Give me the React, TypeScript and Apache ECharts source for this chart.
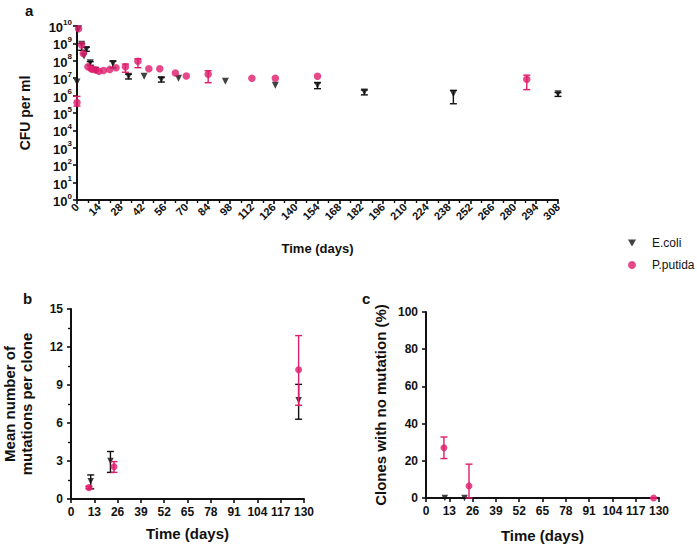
import React, { useEffect, useRef } from "react";
import * as echarts from "echarts";

// ---- Panel a: CFU per ml over time ----
const ecoliDays = [0, 1, 3, 4.5, 6, 8.5, 12, 23, 33, 43, 54, 65, 95, 127, 154, 184, 241, 308];
const ecoliCfu = [6e6, 7e9, 9e8, 1.9e8, 4.5e8, 7.6e7, 2.9e7, 7e7, 1.3e7, 1.3e7, 8.3e6, 1e7, 6.6e6, 3.9e6, 3.9e6, 1.6e6, 1.26e6, 1.26e6];
const ecoliErrDays = [3, 6, 8.5, 23, 33, 54, 154, 184, 241, 308];
const ecoliErrLow = [4e8, 3.5e8, 5.5e7, 3.9e7, 9e6, 6e6, 2.5e6, 1.1e6, 3.4e5, 9e5];
const ecoliErrHigh = [1e9, 6e8, 9e7, 9.5e7, 1.7e7, 1.1e7, 5.5e6, 2.1e6, 2e6, 1.5e6];

const putidaDays = [0, 1, 3, 4, 7, 9, 10, 12, 14, 17, 21, 25, 31, 39, 46, 53, 63, 70, 84, 112, 127, 154, 288];
const putidaCfu = [4e5, 7e9, 8e8, 2.6e8, 4.5e7, 3.5e7, 3.3e7, 3e7, 2.5e7, 2.8e7, 3.2e7, 4e7, 4.5e7, 9.5e7, 3.5e7, 3.5e7, 2e7, 1.35e7, 1.7e7, 1.0e7, 1.0e7, 1.3e7, 8.7e6];
const putidaErrDays = [0, 31, 39, 84, 288];
const putidaErrLow = [2.5e5, 2.2e7, 4e7, 5.5e6, 2.2e6];
const putidaErrHigh = [9e5, 6.5e7, 1.3e8, 2.7e7, 1.5e7];

// ---- Panel b: mean number of mutations per clone ----
const mutDaysEcoli = [11, 22, 127];
const mutEcoli = [1.4, 3.0, 7.8];
const mutEcoliLow = [0.8, 2.1, 6.3];
const mutEcoliHigh = [1.9, 3.75, 9.05];
const mutDaysPutida = [10, 24, 127];
const mutPutida = [0.9, 2.55, 10.2];
const mutPutidaLow = [0.8, 2.1, 7.4];
const mutPutidaHigh = [1.0, 2.95, 12.9];

// ---- Panel c: clones with no mutation (%) ----
const noMutDaysEcoli = [10.5, 21.5];
const noMutEcoli = [0, 0];
const noMutDaysPutida = [10, 24, 127];
const noMutPutida = [27, 6.5, 0];
const noMutPutidaLow = [21.2, 0, 0];
const noMutPutidaHigh = [32.8, 18.2, 0];

const seriesNames = ["E.coli", "P.putida"];

const BLACK = "#111111";
const PINK = "#E01C6C";
const FONT = 'Arial, "Liberation Sans", Helvetica, sans-serif';

const zip2 = (xs: number[], ys: number[]) => xs.map((x, i) => [x, ys[i]]);
const zip3 = (xs: number[], lo: number[], hi: number[]) => xs.map((x, i) => [x, lo[i], hi[i]]);

function errRender(color: string) {
  return (params: any, api: any) => {
    const x = api.value(0);
    const lo = api.value(1);
    const hi = api.value(2);
    const a = api.coord([x, lo]);
    const b = api.coord([x, hi]);
    const w = 3.5;
    const style = { stroke: color, lineWidth: 1.4, fill: null };
    return {
      type: "group",
      children: [
        { type: "line", shape: { x1: a[0], y1: a[1], x2: b[0], y2: b[1] }, style },
        { type: "line", shape: { x1: a[0] - w, y1: a[1], x2: a[0] + w, y2: a[1] }, style },
        { type: "line", shape: { x1: b[0] - w, y1: b[1], x2: b[0] + w, y2: b[1] }, style },
      ],
    };
  };
}

const axisLine = { show: true, onZero: false, lineStyle: { color: BLACK, width: 2 } };
const axisTick = { show: true, length: 4, lineStyle: { color: BLACK, width: 1.6 } };

function scatter(name: string, xi: number, xs: number[], ys: number[], isTri: boolean, size: number) {
  return {
    type: "scatter", name, xAxisIndex: xi, yAxisIndex: xi,
    symbol: isTri ? "triangle" : "circle",
    symbolRotate: isTri ? 180 : 0,
    symbolSize: size,
    itemStyle: { color: isTri ? BLACK : PINK },
    clip: false,
    z: isTri ? 3 : 5,
    data: zip2(xs, ys),
  };
}

function errors(name: string, xi: number, xs: number[], lo: number[], hi: number[], color: string) {
  return {
    type: "custom", name, xAxisIndex: xi, yAxisIndex: xi,
    renderItem: errRender(color), encode: { x: 0, y: [1, 2] },
    itemStyle: { color },
    data: zip3(xs, lo, hi), z: color === PINK ? 4 : 2, silent: true,
  };
}

export default function App() {
  const ref = useRef<HTMLDivElement>(null);
  useEffect(() => {
    document.body.style.margin = "0";
    const chart = echarts.init(ref.current!, null, { renderer: "svg" });
    const bold = (size: number) => ({
      color: BLACK,
      fontFamily: FONT,
      fontWeight: "bold" as const,
      fontSize: size,
    });
    const panelTitle = { fontSize: 15, fontWeight: "bold", color: BLACK, fontFamily: FONT };

    const option: any = {
      animation: false,
      backgroundColor: "#ffffff",
      textStyle: { fontFamily: FONT },
      title: [
        { text: "a", left: 20, top: -2, textStyle: panelTitle },
        { text: "b", left: 18, top: 286, textStyle: panelTitle },
        { text: "c", left: 357, top: 286, textStyle: panelTitle },
      ],
      legend: {
        orient: "vertical",
        left: 623,
        top: 232,
        itemWidth: 8,
        itemHeight: 8,
        itemGap: 10,
        symbolRotate: 0,
        data: [
          { name: seriesNames[0], icon: "path://M0,0 L10,0 L5,9 Z", itemStyle: { color: BLACK } },
          { name: seriesNames[1], icon: "circle", itemStyle: { color: PINK } },
        ],
        textStyle: { fontSize: 12, color: BLACK, fontFamily: FONT, padding: [0, 0, 0, 11] },
      },
      grid: [
        { left: 77, top: 26, width: 481, height: 174 },
        { left: 66, top: 309, width: 238, height: 190 },
        { left: 426, top: 312, width: 233, height: 187 },
      ],
      xAxis: [
        {
          gridIndex: 0, type: "value", min: 0, max: 308, interval: 14,
          name: "Time (days)", nameLocation: "middle", nameGap: 42, nameTextStyle: bold(13),
          axisLine, axisTick,
          minorTick: { show: true, splitNumber: 2, length: 3, lineStyle: { color: BLACK, width: 1.4 } },
          splitLine: { show: false },
          axisLabel: { ...bold(11), rotate: 45, margin: 5 },
        },
        {
          gridIndex: 1, type: "value", min: 0, max: 130, interval: 13,
          name: "Time (days)", nameLocation: "middle", nameGap: 27, nameTextStyle: bold(15),
          axisLine, axisTick, splitLine: { show: false },
          axisLabel: { ...bold(12), margin: 7 },
        },
        {
          gridIndex: 2, type: "value", min: 0, max: 130, interval: 13,
          name: "Time (days)", nameLocation: "middle", nameGap: 30, nameTextStyle: bold(15),
          axisLine, axisTick, splitLine: { show: false },
          axisLabel: { ...bold(12), margin: 7 },
        },
      ],
      yAxis: [
        {
          gridIndex: 0, type: "log", logBase: 10, min: 1, max: 1e10, interval: 1,
          name: "CFU per ml", nameLocation: "middle", nameGap: 45, nameTextStyle: bold(14),
          axisLine, axisTick, splitLine: { show: false },
          axisLabel: {
            margin: 5,
            formatter: (v: number) => `{b|10}{s|${Math.round(Math.log10(v))}}`,
            rich: {
              b: { ...bold(13), verticalAlign: "bottom", lineHeight: 16 },
              s: { ...bold(8), verticalAlign: "top", lineHeight: 16 },
            },
          },
        },
        {
          gridIndex: 1, type: "value", min: 0, max: 15, interval: 3,
          name: "Mean number of\nmutations per clone", nameLocation: "middle", nameGap: 36,
          nameTextStyle: { ...bold(15), lineHeight: 17 },
          axisLine, axisTick,
          minorTick: { show: true, splitNumber: 2, length: 3, lineStyle: { color: BLACK, width: 1.4 } },
          splitLine: { show: false },
          axisLabel: { ...bold(12), margin: 8 },
        },
        {
          gridIndex: 2, type: "value", min: 0, max: 100, interval: 20,
          name: "Clones with no mutation (%)", nameLocation: "middle", nameGap: 38,
          nameTextStyle: bold(15),
          axisLine, axisTick, splitLine: { show: false },
          axisLabel: { ...bold(12), margin: 8 },
        },
      ],
      series: [
        scatter("E.coli", 0, ecoliDays, ecoliCfu, true, 7),
        scatter("P.putida", 0, putidaDays, putidaCfu, false, 7.5),
        scatter("E.coli", 1, mutDaysEcoli, mutEcoli, true, 6.5),
        scatter("P.putida", 1, mutDaysPutida, mutPutida, false, 7),
        scatter("E.coli", 2, noMutDaysEcoli, noMutEcoli, true, 6.5),
        scatter("P.putida", 2, noMutDaysPutida, noMutPutida, false, 7),
        errors("E.coli", 0, ecoliErrDays, ecoliErrLow, ecoliErrHigh, BLACK),
        errors("P.putida", 0, putidaErrDays, putidaErrLow, putidaErrHigh, PINK),
        errors("E.coli", 1, mutDaysEcoli, mutEcoliLow, mutEcoliHigh, BLACK),
        errors("P.putida", 1, mutDaysPutida, mutPutidaLow, mutPutidaHigh, PINK),
        errors("P.putida", 2, noMutDaysPutida, noMutPutidaLow, noMutPutidaHigh, PINK),
      ],
    };
    chart.setOption(option);
    return () => chart.dispose();
  }, []);
  return <div ref={ref} style={{ width: 697, height: 544 }} />;
}
